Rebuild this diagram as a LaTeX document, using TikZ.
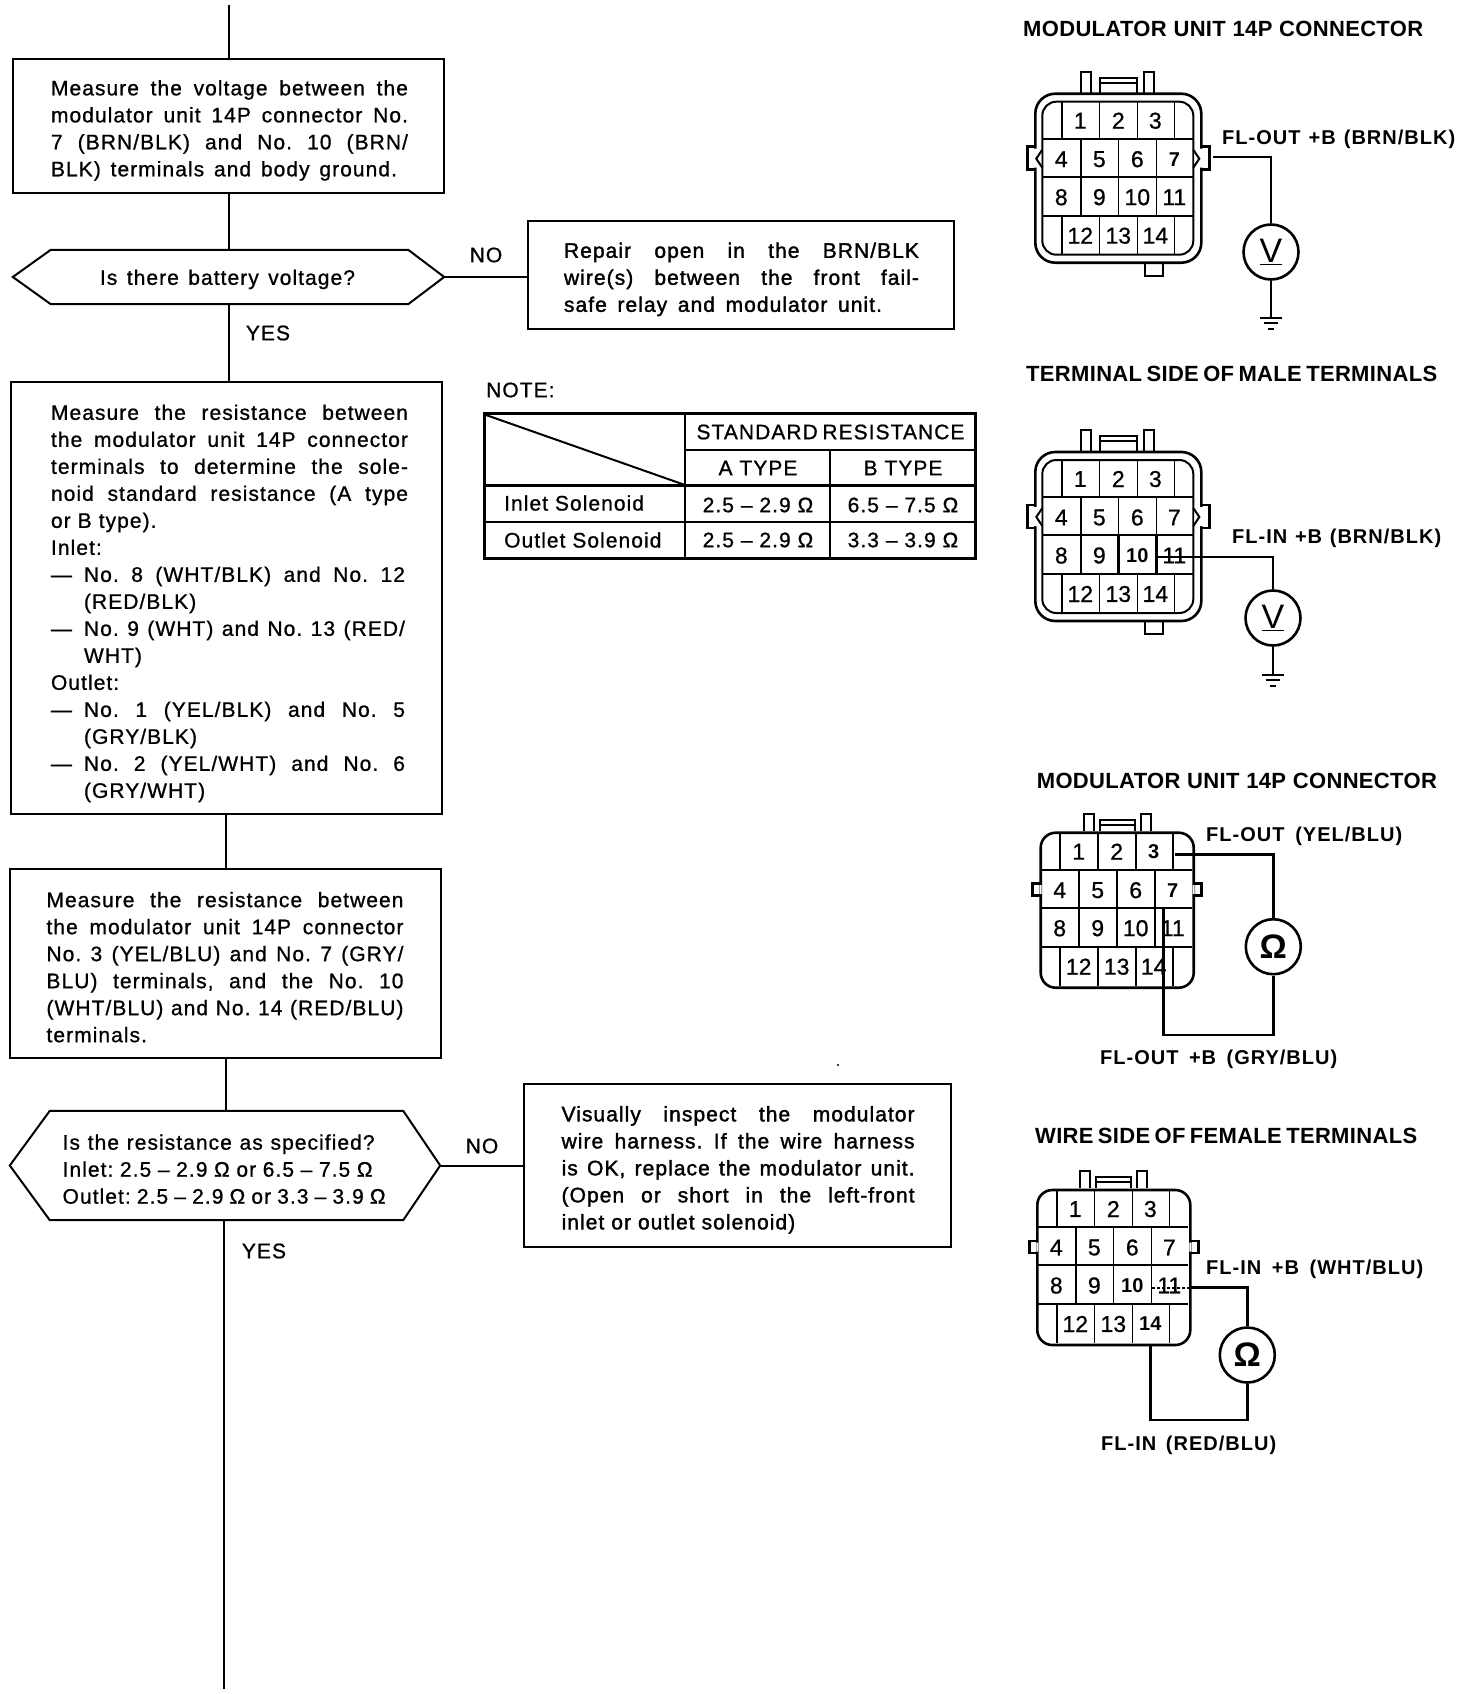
\documentclass[tikz,border=0pt]{standalone}
\usepackage{fontspec}
\setmainfont{Liberation Sans}
\newfontfamily\scanfont{Liberation Sans}[FakeBold=0.9,LetterSpace=5]
\newfontfamily\heavyfont{Liberation Sans}[FakeBold=1.6,LetterSpace=5]
\newfontfamily\numfont{Liberation Sans}[FakeBold=0.7]
\newfontfamily\titlefont{Liberation Sans Bold}[LetterSpace=1.5]
\newfontfamily\wirefont{Liberation Sans Bold}[LetterSpace=5]
\newfontfamily\boldnumfont{Liberation Sans Bold}
\usetikzlibrary{calc}
\newcommand{\resetspaces}{\frenchspacing\spaceskip=0pt\xspaceskip=0pt }
\newcommand{\jl}[2][357pt]{\hspace*{\lm}\makebox[#1][s]{\resetspaces #2}}
\newcommand{\pl}[1]{\hspace*{\lm}#1}
\newcommand{\dl}[2][321pt]{\hspace*{\lm}\makebox[33pt][l]{—}\makebox[#1][s]{\resetspaces #2}}
\newcommand{\il}[1]{\hspace*{\lm}\hspace*{33pt}#1}
\newcommand{\fit}[2]{\makebox[#1][s]{\resetspaces #2}}
\newcommand{\low}[1]{\leavevmode\rule{0pt}{#1}}
\tikzset{
 line/.style={line width=2pt,draw=black},
 wire/.style={line width=2.6pt,draw=black,line join=miter},
 thin line/.style={line width=1.6pt,draw=black},
 boxnode/.style={draw=black,line width=2pt,inner xsep=1pt,inner ysep=0pt,align=left,font=\scanfont\fontsize{21}{27}\selectfont},
 heavybox/.style={boxnode,font=\heavyfont\fontsize{21}{27}\selectfont},
 hexnode/.style={inner xsep=1pt,inner ysep=0pt,align=left,font=\scanfont\fontsize{21}{27}\selectfont},
 plaintext/.style={inner sep=0pt,font=\scanfont\fontsize{21}{25}\selectfont},
 titletext/.style={inner sep=0pt,anchor=west,font=\titlefont\fontsize{22}{26}\selectfont},
 wiretext/.style={inner sep=0pt,anchor=west,font=\wirefont\fontsize{20}{24}\selectfont},
 num/.style={inner sep=0pt,font=\numfont\fontsize{23}{26}\selectfont},
 boldnum/.style={font=\boldnumfont\fontsize{20}{24}\selectfont},
 meter/.style={circle,draw=black,line width=2.6pt,minimum size=55pt,inner sep=0pt},
 c3n3/.style={boldnum},c3n7/.style={boldnum},
 c1n7/.style={boldnum},
 c2n10/.style={boldnum},
 c4n10/.style={boldnum},c4n14/.style={boldnum},
}
% grid of 14 cells, placed in a scope whose origin is the inner top-left corner
\newcommand{\cellgrid}[1]{%
 \draw[thin line] (0,37) -- (151,37) (0,75) -- (151,75) (0,114) -- (151,114);
 \draw[thin line] (19.5,0) -- (19.5,37) (57,0) -- (57,37) (95,0) -- (95,37) (132,0) -- (132,37);
 \draw[thin line] (38.5,37) -- (38.5,114) (76,37) -- (76,114) (114,37) -- (114,114);
 \draw[thin line] (19.5,114) -- (19.5,153) (57,114) -- (57,153) (95,114) -- (95,153) (132,114) -- (132,153);
 \foreach \n/\cx/\cy in {1/38/19,2/76/19,3/113/19,4/19/57.5,5/57/57.5,6/95/57.5,7/132/57.5,8/19/95.5,9/57/95.5,10/95/95.5,11/132/95.5,12/38/134,13/76/134,14/113/134}
   \node[num,#1n\n/.try] (#1n\n) at (\cx,\cy) {\n};
}
\newcommand{\shellconn}[3]{%
 \begin{scope}[shift={(#2,#3)}]
  \draw[line,rounded corners=14pt] (0,0) rectangle (151,153);
  \draw[wire,rounded corners=20pt] (-7,-8) rectangle (159,161);
  \fill[white] (-9,47) rectangle (-1,66) (152,47) rectangle (161,66);
  \draw[line] (0,48) -- (-6,57) -- (0,66) (151,48) -- (157,57) -- (151,66);
  \draw[wire] (-7,45) -- (-15,45) -- (-15,68) -- (-7,68) (159,45) -- (167,45) -- (167,68) -- (159,68);
  \draw[line] (39,-9) -- (39,-30) -- (49,-30) -- (49,-9) (102,-9) -- (102,-30) -- (112,-30) -- (112,-9);
  \draw[line] (58,-9) -- (58,-24) -- (95,-24) -- (95,-9) (58,-19) -- (95,-19);
  \draw[line] (103,161) -- (103,174) -- (121,174) -- (121,161);
  \cellgrid{#1}
 \end{scope}}
\newcommand{\plainconn}[3]{%
 \begin{scope}[shift={(#2,#3)}]
  \draw[wire,rounded corners=15pt] (0,0) rectangle (153,155);
  \draw[wire] (0,51) -- (-8,51) -- (-8,63) -- (0,63) (153,51) -- (161,51) -- (161,63) -- (153,63);
  \fill[white] (-1,52.5) rectangle (1,61.5) (152,52.5) rectangle (154,61.5);
  \draw[line] (43,-2) -- (43,-19) -- (53,-19) -- (53,-2) (100,-2) -- (100,-19) -- (110,-19) -- (110,-2);
  \draw[line] (59,-2) -- (59,-13) -- (94,-13) -- (94,-2) (59,-8) -- (94,-8);
  \cellgrid{#1}
 \end{scope}}
\newcommand{\groundat}[1]{%
 \draw[line] ($(#1)+(-11,0)$) -- ($(#1)+(11,0)$) ($(#1)+(-7,5)$) -- ($(#1)+(7,5)$) ($(#1)+(-3,11)$) -- ($(#1)+(3,11)$);}
\begin{document}
\begin{tikzpicture}[x=1pt,y=-1pt]
\useasboundingbox (0,0) rectangle (1472,1694);
\fill[white] (0,0) rectangle (1472,1694);

% ---- flow chart ----
\coordinate (top) at (229,5);
\coordinate (bottom) at (224,1689);
\def\lm{37pt}
\node[boxnode,text width=429pt,minimum height=134pt] (b1) at (228.5,126) {\low{24pt}%
\jl{Measure the voltage between the}\\
\jl{modulator unit 14P connector No.}\\
\jl{7 (BRN/BLK) and No. 10 (BRN/}\\
\jl[346pt]{BLK) terminals and body ground.}};
\node[hexnode,text width=429pt,minimum height=54pt] (d1) at (228.5,277) {\low{20pt}\hspace*{86pt}\fit{255pt}{Is there battery voltage?}};
\draw[line] (d1.west) -- ($(d1.north west)+(38,0)$) -- ($(d1.north east)+(-36,0)$) -- (d1.east) -- ($(d1.south east)+(-36,0)$) -- ($(d1.south west)+(38,0)$) -- cycle;
\def\lm{35pt}
\node[heavybox,text width=424pt,minimum height=108pt] (b2) at (741,275) {\low{24pt}%
\jl[355pt]{Repair open in the BRN/BLK}\\
\jl[355pt]{wire(s) between the front fail-}\\
\jl[318pt]{safe relay and modulator unit.}};
\def\lm{39pt}
\node[boxnode,text width=429pt,minimum height=432pt] (b3) at (226.5,598) {\low{26pt}%
\jl{Measure the resistance between}\\
\jl{the modulator unit 14P connector}\\
\jl{terminals to determine the sole-}\\
\jl{noid standard resistance (A type}\\
\pl{or B type).}\\
\pl{Inlet:}\\
\dl{No. 8 (WHT/BLK) and No. 12}\\
\il{(RED/BLK)}\\
\dl{No. 9 (WHT) and No. 13 (RED/}\\
\il{WHT)}\\
\pl{Outlet:}\\
\dl{No. 1 (YEL/BLK) and No. 5}\\
\il{(GRY/BLK)}\\
\dl{No. 2 (YEL/WHT) and No. 6}\\
\il{(GRY/WHT)}};
\def\lm{35.5pt}
\node[boxnode,text width=429pt,minimum height=189pt] (b4) at (225.5,963.5) {\low{22.5pt}%
\jl{Measure the resistance between}\\
\jl{the modulator unit 14P connector}\\
\jl{No. 3 (YEL/BLU) and No. 7 (GRY/}\\
\jl{BLU) terminals, and the No. 10}\\
\jl{(WHT/BLU) and No. 14 (RED/BLU)}\\
\pl{terminals.}};
\def\lm{51.6pt}
\node[hexnode,text width=428pt,minimum height=109pt] (d2) at (225,1165.5) {\low{22.5pt}%
\jl[312pt]{Is the resistance as specified?}\\
\jl[310pt]{Inlet: 2.5 – 2.9 Ω or 6.5 – 7.5 Ω}\\
\jl[323pt]{Outlet: 2.5 – 2.9 Ω or 3.3 – 3.9 Ω}};
\draw[line] (d2.west) -- ($(d2.north west)+(40,0)$) -- ($(d2.north east)+(-37,0)$) -- (d2.east) -- ($(d2.south east)+(-37,0)$) -- ($(d2.south west)+(40,0)$) -- cycle;
\def\lm{36.6pt}
\node[heavybox,text width=425pt,minimum height=163pt] (b5) at (737.5,1165.5) {\low{24pt}%
\jl[353pt]{Visually inspect the modulator}\\
\jl[353pt]{wire harness. If the wire harness}\\
\jl[353pt]{is OK, replace the modulator unit.}\\
\jl[353pt]{(Open or short in the left-front}\\
\pl{inlet or outlet solenoid)}};

\draw[line] (top) -- (top |- b1.north);
\draw[line] (b1.south -| top) -- (d1.north -| top);
\draw[line] (d1.south -| top) -- (b3.north -| top);
\draw[line] (d1.east) -- (b2.west |- d1.east);
\draw[line] (b3.south -| b4.north) -- (b4.north);
\draw[line] (b4.south) -- (b4.south |- d2.north);
\draw[line] (d2.east) -- (b5.west |- d2.east);
\draw[line] (bottom |- d2.south) -- (bottom);

\node[plaintext] (no1) at (486,255) {NO};
\node[plaintext] (yes1) at (268,333) {YES};
\node[plaintext] (no2) at (482,1146) {NO};
\node[plaintext] (yes2) at (264,1251) {YES};
\fill (838,1065) circle (1.2pt);

% ---- table ----
\node[plaintext,anchor=west] (note) at (486,390) {NOTE:};
\draw[line width=3pt] (484,413) rectangle (975,558);
\draw[line] (685,413) -- (685,558);
\draw[line] (685,450) -- (975,450);
\draw[line width=3pt] (484,485) -- (975,485);
\draw[line] (484,522) -- (975,522);
\draw[thin line] (830,450) -- (830,558);
\draw[line] (486,415) -- (685,485);
\node[plaintext] (ts) at (830,432) {\fit{267pt}{STANDARD RESISTANCE}};
\node[plaintext] (ta) at (758,468) {A TYPE};
\node[plaintext] (tb) at (903,468) {B TYPE};
\node[plaintext,anchor=west] (ti) at (504,503) {Inlet Solenoid};
\node[plaintext,anchor=west] (to) at (504,540) {Outlet Solenoid};
\node[plaintext] (t1) at (758,505) {2.5 – 2.9 Ω};
\node[plaintext] (t2) at (903,505) {6.5 – 7.5 Ω};
\node[plaintext] (t3) at (758,540) {2.5 – 2.9 Ω};
\node[plaintext] (t4) at (903,540) {3.3 – 3.9 Ω};

% ---- connector 1 ----
\node[titletext] (tt1) at (1023,29) {\fit{400pt}{MODULATOR UNIT 14P CONNECTOR}};
\shellconn{c1}{1042.3}{101.7}
\node[wiretext] (l1) at (1222,139) {\fit{233pt}{FL-OUT +B (BRN/BLK)}};
\node[meter,font=\fontsize{34}{36}\selectfont] (m1) at (1271,252) {\underline{V}};
\coordinate (w1) at (1213,157);
\coordinate (g1) at (1271,318);
\draw[wire] (w1) -| (m1.north);
\draw[wire] (m1.south) -- (g1);
\groundat{g1}

% ---- connector 2 ----
\node[titletext] (tt2) at (1026,374) {\fit{411pt}{TERMINAL SIDE OF MALE TERMINALS}};
\shellconn{c2}{1042.3}{460}
\draw[wire] (1118.3,535) rectangle (1156.3,574);
\node[wiretext] (l2) at (1232,538) {\fit{209pt}{FL-IN +B (BRN/BLK)}};
\node[meter,font=\fontsize{34}{36}\selectfont] (m2) at (1273,618) {\underline{V}};
\coordinate (w2) at (1156,557);
\coordinate (g2) at (1273,675);
\draw[wire] (w2) -| (m2.north);
\draw[wire] (m2.south) -- (g2);
\groundat{g2}

% ---- connector 3 ----
\node[titletext] (tt3) at (1036.7,781) {\fit{400pt}{MODULATOR UNIT 14P CONNECTOR}};
\plainconn{c3}{1040.7}{832.7}
\node[wiretext] (l3) at (1206,836) {\fit{196pt}{FL-OUT (YEL/BLU)}};
\node[wiretext] (l3b) at (1100,1059) {\fit{237pt}{FL-OUT +B (GRY/BLU)}};
\node[meter,font=\boldnumfont\fontsize{34}{36}\selectfont] (m3) at (1273.3,946.7) {Ω};
\coordinate (w3a) at (1175,854.3);
\coordinate (w3b) at (1163.3,906.7);
\coordinate (w3c) at (1163.3,1035);
\draw[wire] (w3a) -| (m3.north);
\draw[wire] (w3b) -- (w3c) -| (m3.south);

% ---- connector 4 ----
\node[titletext] (tt4) at (1035,1136) {\fit{382pt}{WIRE SIDE OF FEMALE TERMINALS}};
\plainconn{c4}{1037.3}{1190}
\node[wiretext] (l4) at (1206,1269) {\fit{217pt}{FL-IN +B (WHT/BLU)}};
\node[wiretext] (l4b) at (1101,1445) {\fit{175pt}{FL-IN (RED/BLU)}};
\node[meter,font=\boldnumfont\fontsize{34}{36}\selectfont] (m4) at (1247.3,1355) {Ω};
\coordinate (w4a) at (1190.3,1287.7);
\coordinate (w4b) at (1150.7,1345);
\coordinate (w4c) at (1150.7,1420);
\draw[line,densely dashed] (w4a) -- +(-38,0);
\draw[wire] (w4a) -| (m4.north);
\draw[wire] (w4b) -- (w4c) -| (m4.south);
\end{tikzpicture}
\end{document}
